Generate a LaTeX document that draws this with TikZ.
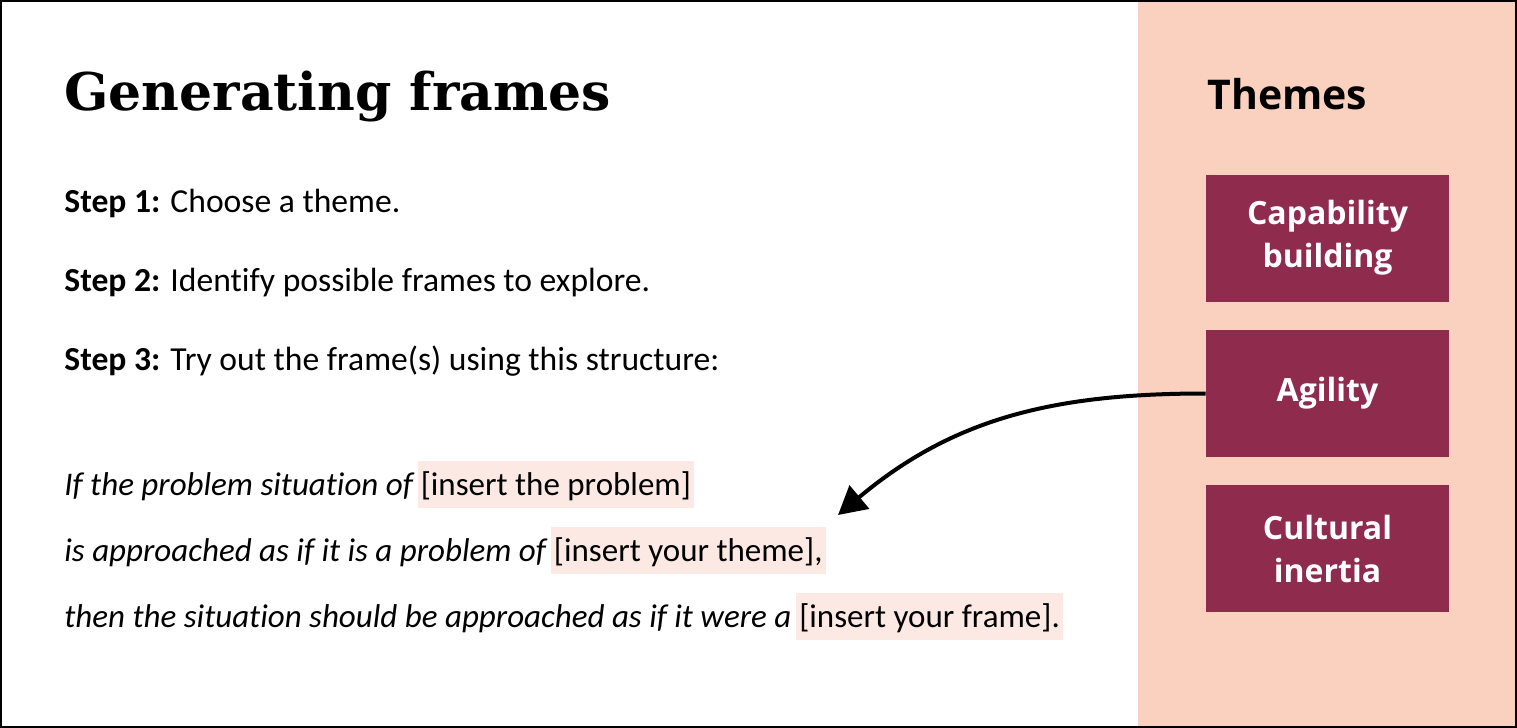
\documentclass[tikz,border=0pt]{standalone}
\usepackage{fontspec}
\setmainfont{Carlito}[Ligatures=NoCommon]
\newfontfamily\titlefont{DejaVu Serif}
\newfontfamily\themefont{Open Sans}
\usepackage{tikz}
\usetikzlibrary{arrows.meta}
\usetikzlibrary{positioning}
\definecolor{panelpeach}{HTML}{FAD0BE}
\definecolor{themered}{HTML}{8F2B4C}
\definecolor{hlpink}{HTML}{FDE9E3}
\tikzset{
    theme/.style={
        fill=themered,
        text=white,
        minimum width=121.5pt,
        minimum height=63.5pt,
        align=center,
        inner sep=0pt,
        font=\themefont\bfseries\fontsize{16}{21.5}\selectfont
    },
    textline/.style={
        anchor=base west,
        inner sep=0pt,
        font=\fontsize{16.5}{20}\selectfont
    },
    stepline/.style={
        textline,
        font=\fontsize{16.8}{20}\selectfont
    },
    hl/.style={
        fill=hlpink,
        inner xsep=1.5pt,
        inner ysep=0pt,
        text height=17pt,
        text depth=6.5pt,
        font=\fontsize{16.5}{20}\selectfont
    },
    arr/.style={
        draw,
        -{Triangle[length=14pt, width=15pt]},
        line width=2pt
    }
}

\begin{document}
\begin{tikzpicture}[x=0.5pt, y=-0.5pt]
    \useasboundingbox (0,0) rectangle (1517,728);
    \fill[panelpeach] (1138,0) rectangle (1517,728);
    \draw[line width=1pt] (1,1) rectangle (1516,727);

    \node[anchor=base west, inner sep=0pt, font=\titlefont\bfseries\fontsize{26}{31}\selectfont] (title) at (64,110) {Generating frames};
    \node[anchor=base west, inner sep=0pt, font=\themefont\bfseries\fontsize{20.5}{25}\selectfont] (themes) at (1207,109) {Themes};

    \node[stepline] (step1) at (64,212) {\textbf{Step 1:} Choose a theme.};
    \node[stepline] (step2) at (64,291) {\textbf{Step 2:} Identify possible frames to explore.};
    \node[stepline] (step3) at (64,370) {\textbf{Step 3:} Try out the frame(s) using this structure:};

    \node[textline] (if1) at (64,495) {\itshape If the problem situation of};
    \node[hl, right=2pt of if1.base east, anchor=base west] (prob) {[insert the problem]};
    \node[textline] (if2) at (64,561) {\itshape is approached as if it is a problem of};
    \node[hl, right=2pt of if2.base east, anchor=base west] (yourtheme) {[insert your theme],};
    \node[textline] (if3) at (64,627) {\itshape then the situation should be approached as if it were a};
    \node[hl, right=2pt of if3.base east, anchor=base west] (yourframe) {[insert your frame].};

    \node[theme] (capab) at (1327.5,238) {Capability\\building};
    \node[theme] (agility) at (1327.5,393.5) {Agility};
    \node[theme] (inertia) at (1327.5,548.5) {Cultural\\inertia};

    \coordinate (tip) at (838,515);
    \draw[arr] (agility.west) to[out=180, in=40] (tip);
\end{tikzpicture}
\end{document}
